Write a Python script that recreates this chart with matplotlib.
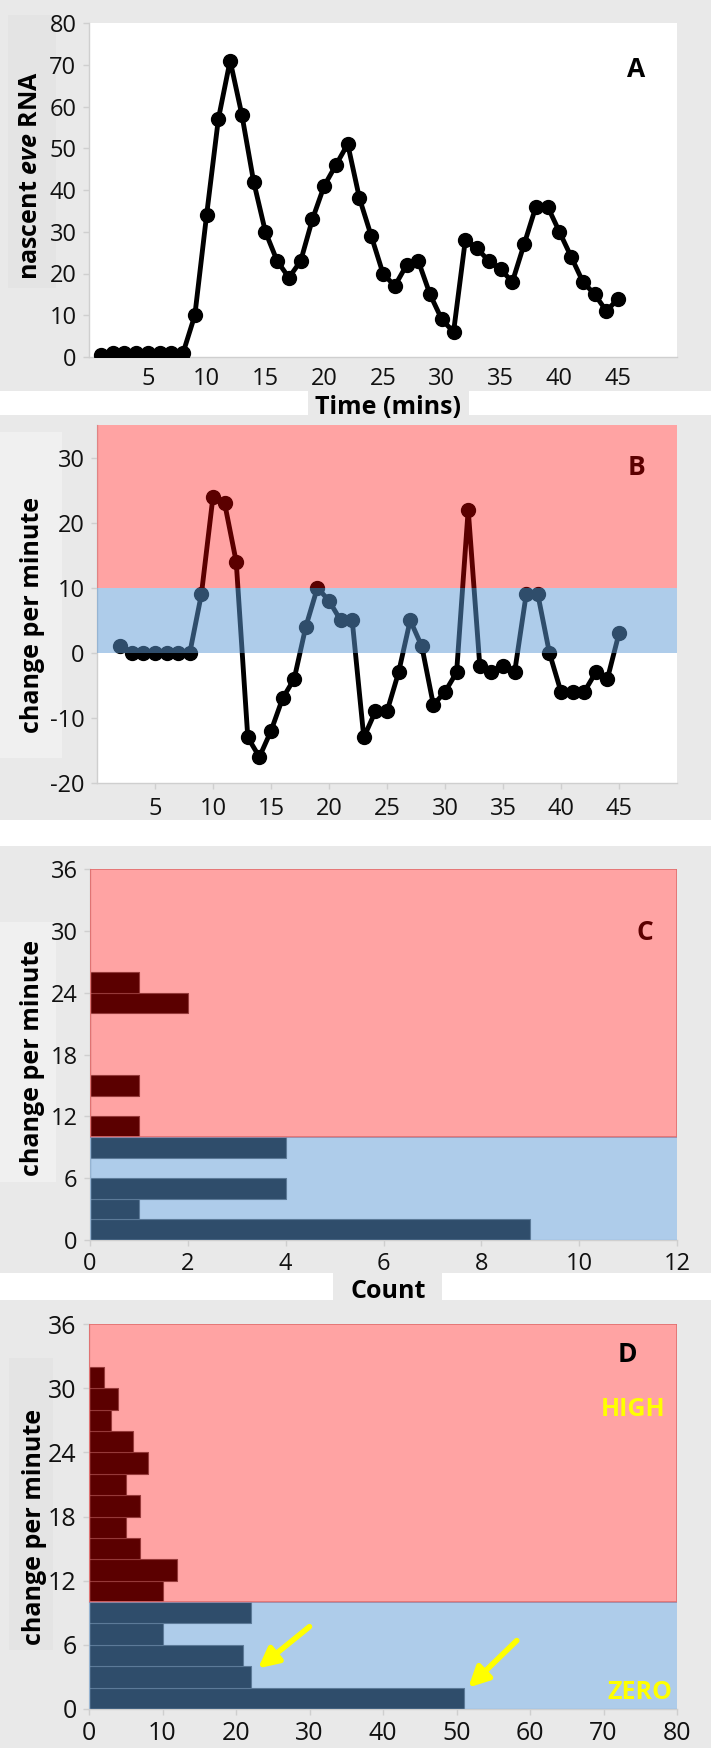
import matplotlib
matplotlib.use('Agg')
import matplotlib.pyplot as plt
from matplotlib.patches import Rectangle

plt.rcParams['font.family'] = ['Open Sans', 'DejaVu Sans']
plt.rcParams['mathtext.fontset'] = 'custom'
plt.rcParams['mathtext.it'] = 'Open Sans:italic:bold'
plt.rcParams['mathtext.rm'] = 'Open Sans:bold'
plt.rcParams['axes.unicode_minus'] = False

# panel A: nascent eve RNA per minute
time_a = list(range(1, 46))
rna = [0.5, 1, 1, 1, 1, 1, 1, 1, 10, 34, 57, 71, 58, 42, 30, 23, 19, 23, 33, 41,
       46, 51, 38, 29, 20, 17, 22, 23, 15, 9, 6, 28, 26, 23, 21, 18, 27, 36, 36, 30,
       24, 18, 15, 11, 14]

# panel B: change per minute
time_b = list(range(2, 46))
change = [1, 0, 0, 0, 0, 0, 0, 9, 24, 23, 14, -13, -16, -12, -7, -4, 4, 10, 8, 5,
          5, -13, -9, -9, -3, 5, 1, -8, -6, -3, 22, -2, -3, -2, -3, 9, 9, 0, -6, -6,
          -6, -3, -4, 3]

# panel C: histogram of positive changes (bins of 2)
bins_c = [0, 2, 4, 6, 8, 10, 12, 14, 16, 18, 20, 22, 24]
counts_c = [9, 1, 4, 0, 4, 1, 0, 1, 0, 0, 0, 2, 1]

# panel D: pooled histogram (bins of 2)
bins_d = [0, 2, 4, 6, 8, 10, 12, 14, 16, 18, 20, 22, 24, 26, 28, 30]
counts_d = [51, 22, 21, 10, 22, 10, 12, 7, 5, 7, 5, 8, 6, 3, 4, 2]

BG = '#E9E9E9'
W, H = 711, 1748

fig = plt.figure(figsize=(W / 100, H / 100), dpi=100, facecolor='white')


def box(x0, y0, x1, y1, color):
    # pixel coords, y from top
    fig.add_artist(Rectangle((x0 / W, 1 - y1 / H), (x1 - x0) / W, (y1 - y0) / H,
                             transform=fig.transFigure, facecolor=color,
                             edgecolor='none', zorder=0))


def axes_px(x0, y0, x1, y1):
    return fig.add_axes([x0 / W, 1 - y1 / H, (x1 - x0) / W, (y1 - y0) / H])


# grey blocks behind each panel
box(0, 0, W, 391, BG)
box(0, 415, W, 820, BG)
box(0, 846, W, 1273, BG)
box(0, 1300, W, H, BG)

# label boxes
box(8, 15, 56, 288, '#E4E4E4')
box(0, 432, 62, 758, '#F0F0F0')
box(0, 922, 56, 1182, '#F0F0F0')
box(9, 1358, 53, 1650, '#E4E4E4')
box(308, 391, 469, 424, BG)
box(333, 1270, 442, 1313, BG)


def style(ax, size=17):
    ax.set_facecolor('white')
    for s in ['top', 'right']:
        ax.spines[s].set_visible(False)
    for s in ['left', 'bottom']:
        ax.spines[s].set_color('#CFCFCF')
        ax.spines[s].set_linewidth(1)
    ax.tick_params(colors='#CFCFCF', labelcolor='#111111', labelsize=size,
                   length=4, width=1, pad=5)


RED = (1.0, 0.0, 0.0, 0.36)
BLUE = (0.369, 0.604, 0.839, 0.5)

# ---- A ----
axA = axes_px(89, 23, 677, 357)
style(axA)
axA.plot(time_a, rna, color='black', lw=3.5, marker='o', ms=10, zorder=3)
axA.set_xlim(0, 50)
axA.set_ylim(0, 80)
axA.set_xticks(range(5, 50, 5))
axA.set_yticks(range(0, 90, 10))
axA.tick_params(axis='x', length=0, pad=7)
axA.text(0.93, 0.86, 'A', transform=axA.transAxes, fontsize=19,
         fontweight='bold', ha='center', va='center')
fig.text(31 / W, 1 - 176 / H, r'nascent $\mathit{eve}$ RNA', rotation=90,
         fontsize=18, fontweight='bold', ha='center', va='center')
fig.text(388 / W, 1 - 408 / H, 'Time (mins)', fontsize=18, fontweight='bold',
         ha='center', va='center')

# ---- B ----
axB = axes_px(97, 425, 677, 783)
style(axB)
axB.plot(time_b, change, color='black', lw=3.5, marker='o', ms=10, zorder=2)
axB.axhspan(10, 35, color=RED, lw=0, zorder=4)
axB.axhspan(0, 10, color=BLUE, lw=0, zorder=4)
axB.set_xlim(0, 50)
axB.set_ylim(-20, 35)
axB.set_xticks(range(5, 50, 5))
axB.set_yticks(range(-20, 40, 10))
axB.tick_params(axis='x', pad=6)
axB.text(0.93, 0.88, 'B', transform=axB.transAxes, fontsize=19,
         fontweight='bold', ha='center', va='center', zorder=3)
fig.text(33 / W, 1 - 615 / H, 'change per minute', rotation=90,
         fontsize=18, fontweight='bold', ha='center', va='center')

# ---- C ----
axC = axes_px(90, 869, 677, 1240)
style(axC)
axC.barh(bins_c, counts_c, height=2, align='edge', color='black',
         edgecolor='#5A5A5A', lw=0.8, zorder=2)
axC.add_patch(Rectangle((0, 10), 12, 26, facecolor=RED, edgecolor='#E07070',
                        lw=1.2, zorder=4))
axC.axhspan(0, 10, color=BLUE, lw=0, zorder=4)
axC.set_xlim(0, 12)
axC.set_ylim(0, 36)
axC.set_xticks(range(0, 14, 2))
axC.set_yticks(range(0, 42, 6))
axC.text(0.945, 0.83, 'C', transform=axC.transAxes, fontsize=19,
         fontweight='bold', ha='center', va='center', zorder=3)
fig.text(33 / W, 1 - 1058 / H, 'change per minute', rotation=90,
         fontsize=18, fontweight='bold', ha='center', va='center')
fig.text(388 / W, 1 - 1292 / H, 'Count', fontsize=18, fontweight='bold',
         ha='center', va='center')

# ---- D ----
axD = axes_px(89, 1324, 677, 1709)
style(axD, size=18)
axD.barh(bins_d, counts_d, height=2, align='edge', color='black',
         edgecolor='#5A5A5A', lw=0.8, zorder=2)
axD.add_patch(Rectangle((0, 10), 80, 26, facecolor=RED, edgecolor='#E07070',
                        lw=1.2, zorder=4))
axD.axhspan(0, 10, color=BLUE, lw=0, zorder=4)
axD.set_xlim(0, 80)
axD.set_ylim(0, 36)
axD.set_xticks(range(0, 90, 10))
axD.set_yticks(range(0, 42, 6))
axD.text(0.915, 0.92, 'D', transform=axD.transAxes, fontsize=19,
         fontweight='bold', ha='center', va='center', zorder=6)
axD.text(74, 28, 'HIGH', color='yellow', fontsize=18, fontweight='bold',
         ha='center', va='center', zorder=6)
axD.text(75, 1.5, 'ZERO', color='yellow', fontsize=18, fontweight='bold',
         ha='center', va='center', zorder=6)
arrow = dict(arrowstyle='-|>', color='yellow', lw=4, mutation_scale=30,
             shrinkA=0, shrinkB=0)
axD.annotate('', xy=(23, 3.8), xytext=(30, 7.7), arrowprops=arrow, zorder=6)
axD.annotate('', xy=(51.6, 2.0), xytext=(58.2, 6.4), arrowprops=arrow, zorder=6)
fig.text(35 / W, 1 - 1527 / H, 'change per minute', rotation=90,
         fontsize=18, fontweight='bold', ha='center', va='center')

fig.savefig('out.png', dpi=100, facecolor='white')
